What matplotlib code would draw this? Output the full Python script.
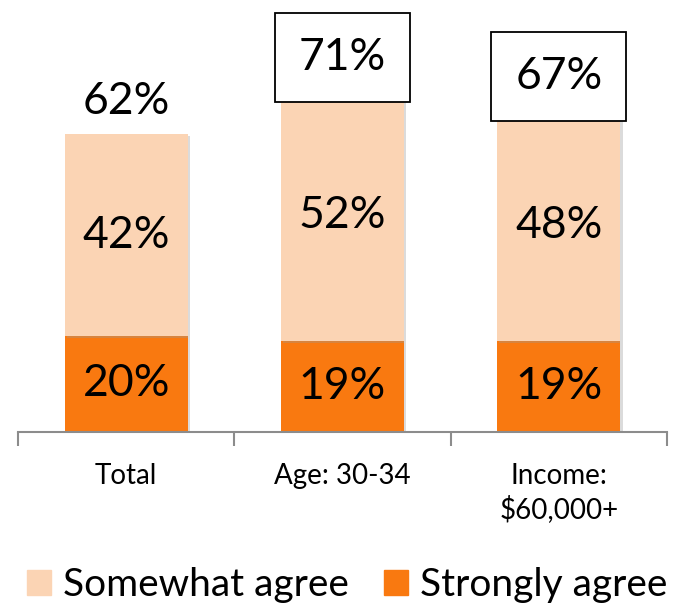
import matplotlib.pyplot as plt
import matplotlib.patheffects as pe
from matplotlib.patches import Patch
import numpy as np

plt.rcParams['font.family'] = ['Lato', 'DejaVu Sans']

categories = ["Total", "Age: 30-34", "Income:\n$60,000+"]
strongly = [20, 19, 19]
somewhat = [42, 52, 48]
totals = [62, 71, 67]
boxed = [False, True, True]

c_light = "#FBD4B4"
c_dark = "#F97910"

fig = plt.figure(figsize=(6.75, 6.05), dpi=100)
ax = fig.add_axes([18/675, 173/605, 649/675, 432/605])

x = np.arange(len(categories))
shadow = [pe.SimplePatchShadow(offset=(1.5, -1.5), shadow_rgbFace="#999999", alpha=0.35), pe.Normal()]
b1 = ax.bar(x, strongly, width=0.57, color=c_dark, path_effects=shadow, zorder=2)
b2 = ax.bar(x, somewhat, width=0.57, bottom=strongly, color=c_light, path_effects=shadow, zorder=2)

fs = 32
for i in range(len(x)):
    ax.text(x[i], strongly[i] / 2, f"{strongly[i]}%", ha="center", va="center", fontsize=fs, zorder=3)
    ax.text(x[i], strongly[i] + somewhat[i] / 2, f"{somewhat[i]}%", ha="center", va="center", fontsize=fs, zorder=3)
    if boxed[i]:
        ax.text(x[i], totals[i] + 7.1, f"{totals[i]}%", ha="center", va="center", fontsize=fs, zorder=4,
                bbox=dict(boxstyle="square,pad=0.54", fc="white", ec="black", lw=1.3))
    else:
        ax.text(x[i], totals[i] + 6.8, f"{totals[i]}%", ha="center", va="center", fontsize=fs, zorder=3)

ax.set_xlim(-0.5, 2.5)
ax.set_ylim(0, 90)
ax.set_yticks([])
for s in ["top", "right", "left"]:
    ax.spines[s].set_visible(False)
ax.spines["bottom"].set_color("#8C8C8C")
ax.spines["bottom"].set_linewidth(1.5)

ax.set_xticks(x)
ax.set_xticklabels(categories, fontsize=20, va="top", linespacing=1.3)
ax.tick_params(axis="x", which="major", length=0, pad=22)
ax.set_xticks([-0.5, 0.5, 1.5, 2.5], minor=True)
ax.tick_params(axis="x", which="minor", length=10, width=1.5, color="#8C8C8C")

handles = [Patch(color=c_light, label="Somewhat agree"), Patch(color=c_dark, label="Strongly agree")]
fig.legend(handles=handles, loc="center", bbox_to_anchor=(0.5 + 10/675, 20/605), ncol=2, frameon=False,
           fontsize=28, handlelength=0.6, handleheight=0.6, handletextpad=0.33, columnspacing=0.9,
           borderaxespad=0, borderpad=0)

fig.savefig("out.png", dpi=100)
